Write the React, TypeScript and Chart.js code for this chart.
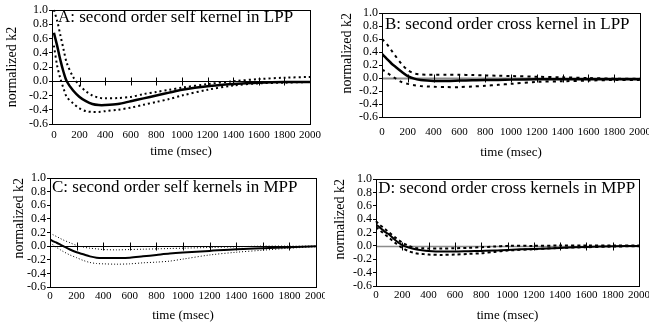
import React, { useEffect, useRef } from "react";
import { Chart, registerables } from "chart.js";
Chart.register(...registerables);

// ---------- data ----------
const TIME_MS = [0, 25, 50, 75, 100, 150, 200, 250, 300, 350, 400, 500, 600, 700, 800, 900, 1000, 1200, 1400, 1600, 1800, 2000, 2060];
const X_TICK_VALUES = [0, 200, 400, 600, 800, 1000, 1200, 1400, 1600, 1800, 2000];
const Y_TICK_VALUES = [-0.6, -0.4, -0.2, 0, 0.2, 0.4, 0.6, 0.8, 1.0];
const X_TITLE = "time (msec)";
const Y_TITLE = "normalized k2";
const PANEL_TITLES = [
  "A: second order self kernel in LPP",
  "B: second order cross kernel in LPP",
  "C: second order self kernels in MPP",
  "D: second order cross kernels in MPP",
];

const A_MEAN = [0.68, 0.5, 0.3, 0.13, 0.0, -0.13, -0.22, -0.28, -0.32, -0.335, -0.335, -0.32, -0.28, -0.24, -0.2, -0.16, -0.12, -0.07, -0.04, -0.02, -0.01, -0.01];
const A_UPPER = [1.0, 0.85, 0.65, 0.45, 0.26, 0.06, -0.06, -0.14, -0.2, -0.23, -0.24, -0.235, -0.22, -0.18, -0.15, -0.12, -0.09, -0.04, 0.0, 0.03, 0.05, 0.06, 0.06];
const A_LOWER = [0.5, 0.22, 0.04, -0.1, -0.22, -0.31, -0.38, -0.42, -0.43, -0.43, -0.42, -0.4, -0.37, -0.33, -0.29, -0.25, -0.2, -0.12, -0.06, -0.03, -0.02, -0.01];

const B_MEAN = [0.37, 0.32, 0.27, 0.22, 0.18, 0.1, 0.03, -0.01, -0.03, -0.04, -0.045, -0.045, -0.04, -0.035, -0.03, -0.03, -0.025, -0.02, -0.02, -0.02, -0.02, -0.02];
const B_UPPER = [0.6, 0.55, 0.49, 0.42, 0.35, 0.22, 0.12, 0.07, 0.055, 0.05, 0.05, 0.05, 0.05, 0.045, 0.04, 0.035, 0.03, 0.02, 0.01, 0.0, -0.01, -0.01];
const B_LOWER = [0.13, 0.1, 0.065, 0.03, 0.0, -0.06, -0.09, -0.11, -0.125, -0.13, -0.135, -0.14, -0.14, -0.13, -0.12, -0.105, -0.09, -0.06, -0.05, -0.04, -0.03, -0.03];

const C_MEAN = [0.1, 0.07, 0.05, 0.025, 0.0, -0.05, -0.09, -0.12, -0.15, -0.17, -0.175, -0.175, -0.17, -0.15, -0.13, -0.11, -0.095, -0.07, -0.045, -0.03, -0.015, 0.0];
const C_UPPER = [0.19, 0.165, 0.14, 0.115, 0.09, 0.05, 0.01, -0.015, -0.03, -0.04, -0.05, -0.055, -0.05, -0.045, -0.04, -0.035, -0.03, -0.02, -0.01, 0.0, 0.0, 0.0, 0.0];
const C_LOWER = [0.05, 0.015, -0.02, -0.05, -0.08, -0.13, -0.17, -0.21, -0.24, -0.255, -0.26, -0.265, -0.26, -0.245, -0.235, -0.22, -0.19, -0.13, -0.09, -0.06, -0.03, -0.01];

const D_MEAN = [0.32, 0.28, 0.24, 0.2, 0.17, 0.08, 0.01, -0.025, -0.05, -0.065, -0.075, -0.085, -0.085, -0.08, -0.075, -0.07, -0.06, -0.045, -0.03, -0.015, -0.005, 0.0];
const D_UPPER = [0.37, 0.32, 0.28, 0.24, 0.2, 0.12, 0.05, 0.0, -0.03, -0.035, -0.04, -0.04, -0.035, -0.03, -0.02, -0.01, 0.0, 0.0, 0.005, 0.005, 0.005, 0.005];
const D_LOWER = [0.28, 0.24, 0.2, 0.16, 0.12, 0.04, -0.03, -0.08, -0.11, -0.12, -0.13, -0.135, -0.13, -0.12, -0.11, -0.09, -0.07, -0.05, -0.03, -0.02, -0.01, -0.005];

// ---------- layout / style ----------
const FONT = '"Liberation Serif", "Times New Roman", serif';

const PANELS = [
  {
    title: PANEL_TITLES[0], mean: A_MEAN, upper: A_UPPER, lower: A_LOWER,
    left: 0, top: 0, w: 325, h: 163, area: { left: 52, top: 10, right: 310, bottom: 124 },
    xMin: -15, xMax: 2000, yTitleAlign: "center", yTitlePad: 3.6, xTickPad: 5, xTitlePad: 4,
    textDx: 6, textDy: 12, zeroColor: "#000", zeroWidth: 1,
    meanWidth: 2.5, dotWidth: 2, dash: [2, 3],
  },
  {
    title: PANEL_TITLES[1], mean: B_MEAN, upper: B_UPPER, lower: B_LOWER,
    left: 325, top: 0, w: 324, h: 163, area: { left: 57, top: 13, right: 315, bottom: 117 },
    xMin: 0, xMax: 2000, yTitleAlign: "end", yTitlePad: 13.6, xTickPad: 9, xTitlePad: 3,
    textDx: 3, textDy: 16, zeroColor: "#8c8c8c", zeroWidth: 2,
    meanWidth: 2.5, dotWidth: 2, dash: [3, 4],
  },
  {
    title: PANEL_TITLES[2], mean: C_MEAN, upper: C_UPPER, lower: C_LOWER,
    left: 0, top: 163, w: 325, h: 163, area: { left: 50, top: 15, right: 316, bottom: 124 },
    xMin: 0, xMax: 2000, yTitleAlign: "end", yTitlePad: 10.6, xTickPad: 3, xTitlePad: 3,
    textDx: 2, textDy: 14, zeroColor: "#000", zeroWidth: 1,
    meanWidth: 2, dotWidth: 1, dash: [1, 2],
  },
  {
    title: PANEL_TITLES[3], mean: D_MEAN, upper: D_UPPER, lower: D_LOWER,
    left: 325, top: 163, w: 324, h: 163, area: { left: 51, top: 16, right: 314, bottom: 123 },
    xMin: 0, xMax: 2000, yTitleAlign: "end", yTitlePad: 7, xTickPad: 2.5, xTitlePad: 3,
    textDx: 2.3, textDy: 14, zeroColor: "#8c8c8c", zeroWidth: 1.5,
    meanWidth: 2, dotWidth: 2, dash: [3, 3],
  },
];

const framePlugin = {
  id: "frame",
  beforeDatasetsDraw(chart: any, _args: any, opts: any) {
    const { ctx, chartArea: a, scales } = chart;
    const y0 = Math.round(scales.y.getPixelForValue(0)) + 0.5;
    ctx.save();
    ctx.strokeStyle = opts.zeroColor;
    ctx.lineWidth = opts.zeroWidth;
    ctx.beginPath();
    ctx.moveTo(a.left, y0);
    ctx.lineTo(a.right, y0);
    ctx.stroke();
    ctx.strokeStyle = "#000";
    ctx.lineWidth = 1;
    ctx.beginPath();
    for (const v of X_TICK_VALUES) {
      if (v === 0) continue;
      const x = Math.round(scales.x.getPixelForValue(v)) + 0.5;
      ctx.moveTo(x, y0 - 4);
      ctx.lineTo(x, y0 + 4);
    }
    ctx.stroke();
    ctx.restore();
  },
  afterDraw(chart: any, _args: any, opts: any) {
    const { ctx, chartArea: a } = chart;
    ctx.save();
    ctx.strokeStyle = "#000";
    ctx.lineWidth = 1;
    ctx.strokeRect(Math.round(a.left) + 0.5, Math.round(a.top) + 0.5, Math.round(a.right - a.left), Math.round(a.bottom - a.top));
    ctx.fillStyle = "#000";
    ctx.font = `17px ${FONT}`;
    ctx.textBaseline = "alphabetic";
    ctx.textAlign = "left";
    ctx.fillText(opts.text, a.left + opts.dx, a.top + opts.dy);
    ctx.restore();
  },
};

function Panel({ p }: { p: any }) {
  const ref = useRef<HTMLCanvasElement>(null);
  useEffect(() => {
    const toPts = (vals: number[]) => vals.map((v, i) => ({ x: TIME_MS[i], y: v }));
    const chart = new Chart(ref.current as HTMLCanvasElement, {
      type: "line",
      data: {
        datasets: [
          { data: toPts(p.upper), borderColor: "#000", borderWidth: p.dotWidth, borderDash: p.dash, pointRadius: 0, tension: 0.3, clip: false as any, fill: false },
          { data: toPts(p.lower), borderColor: "#000", borderWidth: p.dotWidth, borderDash: p.dash, pointRadius: 0, tension: 0.3, fill: false },
          { data: toPts(p.mean), borderColor: "#000", borderWidth: p.meanWidth, pointRadius: 0, tension: 0.3, fill: false },
        ],
      },
      options: {
        animation: false,
        responsive: false,
        maintainAspectRatio: false,
        events: [],
        layout: { padding: { left: 0, top: p.area.top, right: p.w - p.area.right, bottom: 0 } },
        plugins: {
          legend: { display: false },
          tooltip: { enabled: false },
          frame: { text: p.title, dx: p.textDx, dy: p.textDy, zeroColor: p.zeroColor, zeroWidth: p.zeroWidth },
        } as any,
        scales: {
          x: {
            type: "linear",
            min: p.xMin,
            max: p.xMax,
            afterBuildTicks: (s: any) => { s.ticks = X_TICK_VALUES.map((v) => ({ value: v })); },
            afterFit: (s: any) => { s.height = p.h - p.area.bottom; s.paddingLeft = 0; s.paddingRight = 0; },
            grid: { display: false, drawTicks: false },
            border: { display: true, color: "#000", width: 1 },
            ticks: { color: "#000", font: { family: FONT, size: 11 }, padding: p.xTickPad, maxRotation: 0, autoSkip: false, callback: (v: any) => String(v) },
            title: { display: true, text: X_TITLE, color: "#000", font: { family: FONT, size: 13 }, padding: { top: 0, bottom: p.xTitlePad } },
          },
          y: {
            type: "linear",
            min: -0.6,
            max: 1.0,
            afterBuildTicks: (s: any) => { s.ticks = Y_TICK_VALUES.map((v) => ({ value: v })); },
            afterFit: (s: any) => { s.width = p.area.left; s.paddingTop = 0; s.paddingBottom = 0; },
            grid: { display: true, drawOnChartArea: false, drawTicks: true, tickLength: 3, color: "#000" },
            border: { display: true, color: "#000", width: 1 },
            ticks: { color: "#000", font: { family: FONT, size: 12 }, padding: 1, autoSkip: false, callback: (v: any) => Number(v).toFixed(1) },
            title: { display: true, text: Y_TITLE, align: p.yTitleAlign, color: "#000", font: { family: FONT, size: 14 }, padding: { top: p.yTitlePad, bottom: 0 } },
          },
        },
      },
      plugins: [framePlugin],
    } as any);
    return () => chart.destroy();
  }, []);
  return (
    <canvas
      ref={ref}
      width={p.w}
      height={p.h}
      style={{ position: "absolute", left: p.left, top: p.top, width: p.w, height: p.h }}
    />
  );
}

export default function App() {
  return (
    <div style={{ position: "fixed", left: 0, top: 0, width: 649, height: 326, background: "#fff", overflow: "hidden" }}>
      {PANELS.map((p, i) => (
        <Panel key={i} p={p} />
      ))}
    </div>
  );
}
